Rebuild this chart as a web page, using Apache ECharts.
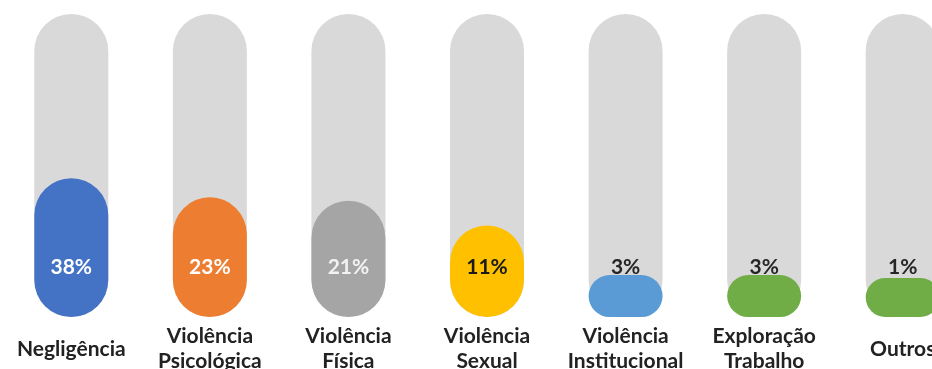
<!DOCTYPE html>
<html>
<head>
<meta charset="utf-8">
<script src="https://cdn.jsdelivr.net/npm/echarts@6/dist/echarts.min.js"></script>
<style>
  html, body { margin: 0; padding: 0; background: #ffffff; }
  #chart { width: 932px; height: 369px; }
</style>
</head>
<body>
<div id="chart"></div>
<script>
// Tipos de violação (percentual dos registros)
const categories = [
  'Negligência',
  'Violência\nPsicológica',
  'Violência\nFísica',
  'Violência\nSexual',
  'Violência\nInstitucional',
  'Exploração\nTrabalho',
  'Outros'
];
const percentValues = [38, 23, 21, 11, 3, 3, 1];

// Bar fill and label colour for each category
const barColors = ['#4472C4', '#ED7D31', '#A5A5A5', '#FFC000', '#5B9BD5', '#70AD47', '#70AD47'];
const labelColors = ['#ffffff', '#ffffff', '#f2f2f2', '#1a1a1a', '#262626', '#262626', '#262626'];

const chart = echarts.init(document.getElementById('chart'), null, { renderer: 'canvas' });

const seriesData = percentValues.map((v, i) => ({
  value: v,
  itemStyle: { color: barColors[i] },
  label: { color: labelColors[i] }
}));

chart.setOption({
  animation: false,
  backgroundColor: '#ffffff',
  // the plot runs past the right edge, so the last column is cut off
  grid: { left: 2, width: 970, top: 14, bottom: 52, outerBoundsMode: 'none', containLabel: false },
  xAxis: {
    type: 'category',
    data: categories,
    axisLine: { show: false },
    axisTick: { show: false },
    splitLine: { show: false },
    axisLabel: {
      interval: 0,
      margin: 32,
      verticalAlign: 'middle',
      fontFamily: 'Lato',
      fontWeight: 'bold',
      fontSize: 21,
      lineHeight: 25,
      color: '#222222'
    }
  },
  yAxis: {
    type: 'log',
    logBase: 10,
    min: 1,
    max: 2800,
    show: false,
    splitLine: { show: false }
  },
  series: [{
    type: 'bar',
    data: seriesData,
    barWidth: 74,
    barMinHeight: 39,
    showBackground: true,
    backgroundStyle: { color: '#D9D9D9', borderRadius: 37 },
    itemStyle: { borderRadius: 37 },
    label: {
      show: true,
      position: 'insideBottom',
      distance: 39,
      formatter: '{c}%',
      fontFamily: 'Lato',
      fontWeight: 'bold',
      fontSize: 21
    }
  }]
});
</script>
</body>
</html>
